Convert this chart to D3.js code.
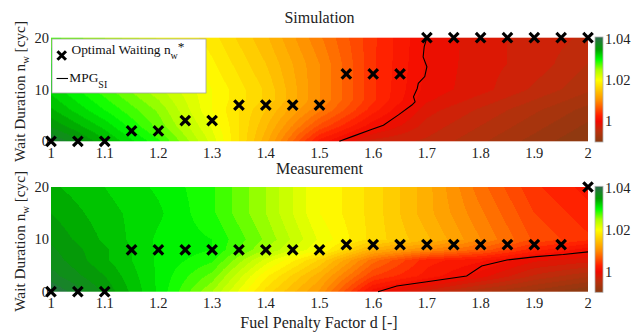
<!DOCTYPE html>
<html><head><meta charset="utf-8">
<script src="https://cdn.jsdelivr.net/npm/d3@7"></script>
<style>
html,body{margin:0;padding:0;background:#fff;}
svg{display:block;font-family:"Liberation Serif","Times New Roman",serif;}
</style></head>
<body><svg id="chart" width="632" height="333"></svg>
<script>
// ---- data ----
const gridD = [1.0, 1.1, 1.2, 1.3, 1.4, 1.5, 1.6, 1.7, 1.8, 1.9, 2.0];
const gridN = [0, 3, 6, 8, 10, 15, 20];
const simZ = [
  [1.039, 1.034, 1.029, 1.022, 1.013, 1.002, 0.997, 0.996, 0.994, 0.992, 0.990],
  [1.036, 1.032, 1.027, 1.021, 1.014, 1.006, 1.0005, 0.997, 0.995, 0.993, 0.991],
  [1.034, 1.030, 1.026, 1.020, 1.015, 1.009, 1.003, 0.998, 0.996, 0.994, 0.992],
  [1.033, 1.029, 1.025, 1.020, 1.016, 1.010, 1.004, 0.999, 0.997, 0.995, 0.993],
  [1.032, 1.028, 1.024, 1.020, 1.016, 1.010, 1.004, 0.9995, 0.998, 0.996, 0.994],
  [1.030, 1.026, 1.023, 1.019, 1.015, 1.010, 1.004, 0.9998, 0.998, 0.997, 0.995],
  [1.028, 1.025, 1.021, 1.018, 1.014, 1.009, 1.004, 1.000, 0.998, 0.997, 0.996]
];
const measZ = [
  [1.040, 1.036, 1.031, 1.025, 1.017, 1.011, 1.0005, 0.997, 0.994, 0.992, 0.990],
  [1.038, 1.035, 1.031, 1.027, 1.019, 1.013, 1.005, 1.002, 0.9993, 0.996, 0.994],
  [1.037, 1.034, 1.031, 1.029, 1.022, 1.016, 1.008, 1.003, 1.0015, 0.999, 0.998],
  [1.0365, 1.034, 1.031, 1.030, 1.025, 1.020, 1.013, 1.010, 1.007, 1.003, 1.0005],
  [1.036, 1.0335, 1.031, 1.030, 1.026, 1.021, 1.017, 1.014, 1.010, 1.006, 1.004],
  [1.035, 1.033, 1.0315, 1.029, 1.025, 1.020, 1.017, 1.013, 1.009, 1.005, 1.003],
  [1.034, 1.0325, 1.031, 1.029, 1.025, 1.020, 1.017, 1.013, 1.008, 1.004, 1.002]
];
const optD = [1.0,1.05,1.1,1.15,1.2,1.25,1.3,1.35,1.4,1.45,1.5,1.55,1.6,1.65,1.7,1.75,1.8,1.85,1.9,1.95,2.0];
const simOptN  = [0,0,0,2,2,4,4,7,7,7,7,13,13,13,20,20,20,20,20,20,20];
const measOptN = [0,0,0,8,8,8,8,8,8,8,8,9,9,9,9,9,9,9,9,9,20];
const simLineD = [1.537,1.563,1.594,1.619,1.647,1.672,1.678,1.675,1.682,1.684,1.696,1.700,1.693,1.695,1.700];
const simLineN = [0,1.0,2.2,3.1,5.1,7.0,7.6,8.6,10.2,11.2,12.5,14.4,16.3,18.3,20];
const measLineD = [1.609,1.644,1.700,1.774,1.802,1.849,1.904,1.954,2.0];
const measLineN = [0,1.1,1.9,3.0,4.9,6.05,6.7,7.1,7.6];
const xTicks = [1,1.1,1.2,1.3,1.4,1.5,1.6,1.7,1.8,1.9,2];
const yTicks = [0,10,20];
const cbTicks = [1,1.02,1.04];
const colorVals = [0.99, 0.995, 1.0, 1.003, 1.01, 1.02, 1.025, 1.03, 1.035, 1.041];
const colorHex  = ['#8a3a10','#b8300c','#f20a00','#ff2000','#ff8c00','#ffff00','#aaff00','#00ff00','#00a000','#2f6b4f'];
const titles = ["Simulation", "Measurement"];

// ---- layout ----
const svg = d3.select("#chart");
const x = d3.scaleLinear().domain([1,2]).range([51,588]);
const panels = [
  {title: titles[0], z: simZ, optN: simOptN, lineD: simLineD, lineN: simLineN, top: 37.7, bottom: 141.3, titleY: 23.3, legend: true},
  {title: titles[1], z: measZ, optN: measOptN, lineD: measLineD, lineN: measLineN, top: 187, bottom: 291.7, titleY: 174.3, legend: false}
];
const color = d3.scaleLinear().domain(colorVals).range(colorHex).interpolate(d3.interpolateRgb).clamp(true);
const levelStep = 0.00125; // contour-fill banding

function interpZ(z, d, n) {
  let i = Math.min(Math.max(d3.bisectRight(gridD, d) - 1, 0), gridD.length - 2);
  let j = Math.min(Math.max(d3.bisectRight(gridN, n) - 1, 0), gridN.length - 2);
  const tx = Math.max(0, Math.min(1, (d - gridD[i]) / (gridD[i+1] - gridD[i])));
  const ty = Math.max(0, Math.min(1, (n - gridN[j]) / (gridN[j+1] - gridN[j])));
  const a = z[j][i], b = z[j][i+1], c = z[j+1][i], e = z[j+1][i+1];
  return (a*(1-tx) + b*tx)*(1-ty) + (c*(1-tx) + e*tx)*ty;
}

panels.forEach((p) => {
  const y = d3.scaleLinear().domain([0,20]).range([p.bottom, p.top]);
  const x0 = x.range()[0], x1 = x.range()[1];
  const w = Math.round(x1 - x0), h = Math.round(p.bottom - p.top);
  // heatmap image
  const cv = document.createElement("canvas");
  cv.width = w; cv.height = h;
  const ctx = cv.getContext("2d");
  const img = ctx.createImageData(w, h);
  for (let py = 0; py < h; py++) {
    const n = y.invert(p.top + (py + 0.5) * (p.bottom - p.top) / h);
    for (let px = 0; px < w; px++) {
      const d = x.invert(x0 + (px + 0.5) * (x1 - x0) / w);
      let v = interpZ(p.z, d, n);
      v = 0.99 + (Math.floor((v - 0.99) / levelStep) + 0.5) * levelStep;
      const c = d3.rgb(color(v));
      const k = (py * w + px) * 4;
      img.data[k] = c.r; img.data[k+1] = c.g; img.data[k+2] = c.b; img.data[k+3] = 255;
    }
  }
  ctx.putImageData(img, 0, 0);
  svg.append("image").attr("x", x0).attr("y", p.top).attr("width", x1 - x0).attr("height", p.bottom - p.top)
    .attr("preserveAspectRatio", "none").attr("href", cv.toDataURL());

  // colorbar
  const cb = d3.scaleLinear().domain([0.99, 1.041]).range([p.bottom + 0.7, p.top - 0.7]);
  const cbc = document.createElement("canvas");
  const cbh = Math.round(cb.range()[0] - cb.range()[1]);
  cbc.width = 1; cbc.height = cbh;
  const cctx = cbc.getContext("2d");
  for (let i = 0; i < cbh; i++) {
    cctx.fillStyle = color(cb.invert(cb.range()[1] + i + 0.5));
    cctx.fillRect(0, i, 1, 1);
  }
  svg.append("image").attr("x", 595).attr("y", cb.range()[1]).attr("width", 8).attr("height", cbh)
    .attr("preserveAspectRatio", "none").attr("href", cbc.toDataURL());
  svg.append("rect").attr("x", 595).attr("y", cb.range()[1]).attr("width", 8).attr("height", cbh)
    .attr("fill", "none").attr("stroke", "#b0b0b0").attr("stroke-width", 0.8);
  svg.append("g").selectAll("text").data(cbTicks).join("text")
    .attr("x", 605).attr("y", d => cb(d)).attr("dy", "0.35em")
    .attr("font-size", 14.5).attr("fill", "#222")
    .text(d => d3.format("")(d));

  // x tick labels
  svg.append("g").selectAll("text").data(xTicks).join("text")
    .attr("x", d => x(d)).attr("y", p.bottom + 16.6).attr("text-anchor", "middle")
    .attr("font-size", 14.5).attr("fill", "#222").text(d => d3.format("")(d));
  // y tick labels
  svg.append("g").selectAll("text").data(yTicks).join("text")
    .attr("x", 49).attr("y", d => y(d)).attr("dy", "0.35em").attr("text-anchor", "end")
    .attr("font-size", 14.5).attr("fill", "#222").text(d => d);

  // y axis label
  const yl = svg.append("text")
    .attr("transform", `translate(25,${(p.top + p.bottom)/2 + 2}) rotate(-90)`)
    .attr("text-anchor", "middle").attr("font-size", 15.3).attr("fill", "#222");
  yl.append("tspan").text("Wait Duration n");
  yl.append("tspan").attr("font-size", 10.5).attr("dy", 4).text("w");
  yl.append("tspan").attr("dy", -4).text(" [cyc]");

  // title
  svg.append("text").attr("x", (x0 + x1) / 2).attr("y", p.titleY).attr("text-anchor", "middle")
    .attr("font-size", 16).attr("fill", "#222").text(p.title);

  // MPG_SI contour line
  const line = d3.line().x(d => x(d[0])).y(d => y(d[1]));
  svg.append("path").datum(p.lineD.map((d, i) => [d, p.lineN[i]]))
    .attr("d", line).attr("fill", "none").attr("stroke", "#000").attr("stroke-width", 1.1);

  // optimal markers
  const xs = 3.6;
  svg.append("g").selectAll("path").data(optD.map((d, i) => [d, p.optN[i]])).join("path")
    .attr("d", d => {
      const cx = x(d[0]), cy = y(d[1]);
      return `M${cx-xs},${cy-xs}L${cx+xs},${cy+xs}M${cx-xs},${cy+xs}L${cx+xs},${cy-xs}`;
    })
    .attr("stroke", "#000").attr("stroke-width", 3.2).attr("stroke-linecap", "square").attr("fill", "none");

  // legend
  if (p.legend) {
    const lg = svg.append("g");
    lg.append("rect").attr("x", 52).attr("y", 39).attr("width", 154).attr("height", 54)
      .attr("fill", "#fff").attr("stroke", "#a0a0a0").attr("stroke-width", 0.8);
    const mx = 61.7, my = 55.5, s = 3.2;
    lg.append("path").attr("d", `M${mx-s},${my-s}L${mx+s},${my+s}M${mx-s},${my+s}L${mx+s},${my-s}`)
      .attr("stroke", "#000").attr("stroke-width", 3).attr("stroke-linecap", "square");
    const t1 = lg.append("text").attr("x", 71.5).attr("y", 53.5).attr("font-size", 13.4).attr("fill", "#111");
    t1.append("tspan").text("Optimal Waiting n");
    t1.append("tspan").attr("font-size", 10).attr("dy", 5).text("w");
    t1.append("tspan").attr("dy", -8).text("*");
    lg.append("line").attr("x1", 56.5).attr("x2", 68).attr("y1", 78.5).attr("y2", 78.5)
      .attr("stroke", "#000").attr("stroke-width", 1.1);
    const t2 = lg.append("text").attr("x", 69.3).attr("y", 81.5).attr("font-size", 13.4).attr("fill", "#111");
    t2.append("tspan").text("MPG");
    t2.append("tspan").attr("font-size", 10).attr("dy", 6).text("SI");
  }
});

// x axis label
svg.append("text").attr("x", 319).attr("y", 328).attr("text-anchor", "middle")
  .attr("font-size", 16).attr("fill", "#222").text("Fuel Penalty Factor d [-]");
</script>
</body></html>
